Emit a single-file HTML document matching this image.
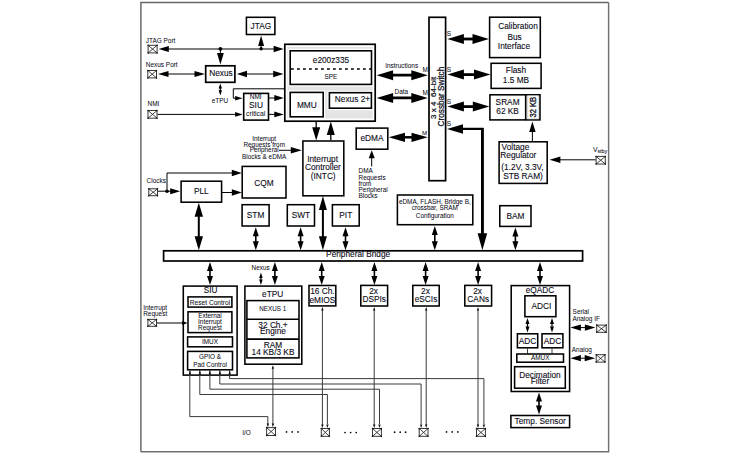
<!DOCTYPE html>
<html><head><meta charset="utf-8"><style>
html,body{margin:0;padding:0;background:#fff;width:750px;height:457px;overflow:hidden}
svg{display:block}
text{font-family:"Liberation Sans",sans-serif}
</style></head><body>
<svg width="750" height="457" viewBox="0 0 750 457">
<rect x="0" y="0" width="750" height="457" fill="#fff"/>
<path d="M140.9,451.8 L140.9,2.4 L608.6,2.4" fill="none" stroke="#666" stroke-width="1.45"/>
<path d="M608.6,2.4 L608.6,451.8 L140.9,451.8" fill="none" stroke="#707070" stroke-width="1.45"/>
<text x="145.80" y="43.00" font-size="6.45" text-anchor="start" fill="#0a0a16" stroke="#0a0a16" stroke-width="0.04" >JTAG Port</text>
<polyline points="162.00,49.00 280.00,49.00" fill="none" stroke="#000" stroke-width="1.0" stroke-linejoin="miter"/>
<polygon points="158.60,49.00 168.80,46.10 168.80,51.90" fill="#000"/>
<polygon points="283.60,49.00 273.60,45.75 273.60,52.25" fill="#000"/>
<rect x="148.10" y="45.30" width="9.00" height="7.60" fill="#fff" stroke="#383838" stroke-width="1.0"/>
<path d="M148.10,45.30L157.10,52.90M157.10,45.30L148.10,52.90" stroke="#222" stroke-width="0.85"/>
<circle cx="148.10" cy="45.30" r="0.75" fill="#111"/>
<circle cx="157.10" cy="45.30" r="0.75" fill="#111"/>
<circle cx="148.10" cy="52.90" r="0.75" fill="#111"/>
<circle cx="157.10" cy="52.90" r="0.75" fill="#111"/>
<circle cx="220.40" cy="48.80" r="1.9" fill="#000"/>
<circle cx="261.10" cy="48.80" r="1.7" fill="#000"/>
<polyline points="220.40,49.00 220.40,56.00" fill="none" stroke="#000" stroke-width="1.0" stroke-linejoin="miter"/>
<polygon points="220.40,64.60 217.00,53.10 223.80,53.10" fill="#000"/>
<polyline points="261.10,49.00 261.10,44.00" fill="none" stroke="#000" stroke-width="1.0" stroke-linejoin="miter"/>
<polygon points="261.10,35.60 258.10,46.10 264.10,46.10" fill="#000"/>
<rect x="246.40" y="17.30" width="28.50" height="17.20" fill="#fff" stroke="#000" stroke-width="1.55"/>
<text x="260.90" y="28.70" font-size="8.3" text-anchor="middle" fill="#0a0a16" stroke="#0a0a16" stroke-width="0.1" >JTAG</text>
<text x="145.80" y="66.80" font-size="6.45" text-anchor="start" fill="#0a0a16" stroke="#0a0a16" stroke-width="0.04" >Nexus Port</text>
<polyline points="162.00,74.00 200.00,74.00" fill="none" stroke="#000" stroke-width="1.0" stroke-linejoin="miter"/>
<polygon points="158.00,74.00 168.50,71.10 168.50,76.90" fill="#000"/>
<polygon points="205.00,74.00 194.50,71.10 194.50,76.90" fill="#000"/>
<rect x="147.80" y="70.50" width="8.70" height="7.40" fill="#fff" stroke="#383838" stroke-width="1.0"/>
<path d="M147.80,70.50L156.50,77.90M156.50,70.50L147.80,77.90" stroke="#222" stroke-width="0.85"/>
<circle cx="147.80" cy="70.50" r="0.75" fill="#111"/>
<circle cx="156.50" cy="70.50" r="0.75" fill="#111"/>
<circle cx="147.80" cy="77.90" r="0.75" fill="#111"/>
<circle cx="156.50" cy="77.90" r="0.75" fill="#111"/>
<rect x="205.70" y="65.80" width="29.20" height="16.50" fill="#fff" stroke="#000" stroke-width="1.7"/>
<text x="221.00" y="76.30" font-size="8.3" text-anchor="middle" fill="#0a0a16" stroke="#0a0a16" stroke-width="0.1" >Nexus</text>
<polyline points="241.90,74.00 278.30,74.00" fill="none" stroke="#000" stroke-width="1.0" stroke-linejoin="miter"/>
<polygon points="236.80,74.00 247.00,70.80 247.00,77.20" fill="#000"/>
<polygon points="283.40,74.00 273.20,70.80 273.20,77.20" fill="#000"/>
<polyline points="220.30,86.00 220.30,92.80" fill="none" stroke="#000" stroke-width="1.2" stroke-linejoin="miter"/>
<polygon points="220.30,83.40 218.60,88.60 222.00,88.60" fill="#000"/>
<polygon points="220.30,95.40 218.60,90.20 222.00,90.20" fill="#000"/>
<text x="219.90" y="102.50" font-size="6.45" text-anchor="middle" fill="#0a0a16" stroke="#0a0a16" stroke-width="0.04" >eTPU</text>
<text x="147.50" y="106.00" font-size="6.45" text-anchor="start" fill="#0a0a16" stroke="#0a0a16" stroke-width="0.04" >NMI</text>
<rect x="148.00" y="110.50" width="9.00" height="7.70" fill="#fff" stroke="#383838" stroke-width="1.0"/>
<path d="M148.00,110.50L157.00,118.20M157.00,110.50L148.00,118.20" stroke="#222" stroke-width="0.85"/>
<circle cx="148.00" cy="110.50" r="0.75" fill="#111"/>
<circle cx="157.00" cy="110.50" r="0.75" fill="#111"/>
<circle cx="148.00" cy="118.20" r="0.75" fill="#111"/>
<circle cx="157.00" cy="118.20" r="0.75" fill="#111"/>
<polyline points="157.50,114.40 237.00,114.40" fill="none" stroke="#000" stroke-width="1.0" stroke-linejoin="miter"/>
<polygon points="242.60,114.40 235.10,112.10 235.10,116.70" fill="#000"/>
<polyline points="284.00,88.80 233.30,88.80 233.30,98.20 237.00,98.20" fill="none" stroke="#000" stroke-width="1.0" stroke-linejoin="miter"/>
<polygon points="242.60,98.20 235.10,95.90 235.10,100.50" fill="#000"/>
<rect x="243.70" y="93.40" width="24.80" height="26.70" fill="#fff" stroke="#000" stroke-width="1.6"/>
<text x="255.70" y="98.80" font-size="6.5" text-anchor="middle" fill="#0a0a16" stroke="#0a0a16" stroke-width="0.04" >NMI</text>
<text x="256.00" y="107.50" font-size="8.4" text-anchor="middle" fill="#0a0a16" stroke="#0a0a16" stroke-width="0.1" >SIU</text>
<text x="255.60" y="116.30" font-size="6.75" text-anchor="middle" fill="#0a0a16" stroke="#0a0a16" stroke-width="0.04" >critical</text>
<polyline points="268.90,98.00 276.00,98.00" fill="none" stroke="#000" stroke-width="1.0" stroke-linejoin="miter"/>
<polygon points="283.80,98.00 274.30,95.10 274.30,100.90" fill="#000"/>
<polyline points="268.90,114.40 276.00,114.40" fill="none" stroke="#000" stroke-width="1.0" stroke-linejoin="miter"/>
<polygon points="283.80,114.40 274.30,111.50 274.30,117.30" fill="#000"/>
<rect x="284.80" y="44.30" width="90.40" height="76.90" fill="#fff" stroke="#000" stroke-width="1.7"/>
<rect x="287.40" y="46.90" width="85.20" height="71.70" fill="#e4e4e4" stroke="none" stroke-width="0"/>
<rect x="290.20" y="50.80" width="81.30" height="33.60" fill="#fff" stroke="#fff" stroke-width="4.0"/>
<rect x="290.20" y="50.80" width="81.30" height="33.60" fill="#fff" stroke="#000" stroke-width="1.6"/>
<line x1="291" y1="69" x2="371" y2="69" stroke="#000" stroke-width="1.3" stroke-dasharray="2.8 3.2"/>
<text x="331.00" y="63.30" font-size="8.3" text-anchor="middle" fill="#0a0a16" stroke="#0a0a16" stroke-width="0.1" >e200z335</text>
<text x="331.00" y="78.60" font-size="6.4" text-anchor="middle" fill="#0a0a16" stroke="#0a0a16" stroke-width="0.04" >SPE</text>
<rect x="290.20" y="92.40" width="33.00" height="24.40" fill="#fff" stroke="#fff" stroke-width="4.0"/>
<rect x="290.20" y="92.40" width="33.00" height="24.40" fill="#fff" stroke="#000" stroke-width="1.6"/>
<text x="306.80" y="108.20" font-size="8.3" text-anchor="middle" fill="#0a0a16" stroke="#0a0a16" stroke-width="0.1" >MMU</text>
<rect x="329.40" y="92.70" width="42.00" height="15.50" fill="#fff" stroke="#fff" stroke-width="4.0"/>
<rect x="329.40" y="92.70" width="42.00" height="15.50" fill="#fff" stroke="#000" stroke-width="1.6"/>
<text x="352.50" y="102.20" font-size="8.3" text-anchor="middle" fill="#0a0a16" stroke="#0a0a16" stroke-width="0.1" >Nexus 2+</text>
<polyline points="384.85,75.20 419.55,75.20" fill="none" stroke="#000" stroke-width="2.8" stroke-linejoin="miter"/>
<polygon points="376.60,75.20 393.10,70.20 393.10,80.20" fill="#000"/>
<polygon points="427.80,75.20 411.30,70.20 411.30,80.20" fill="#000"/>
<text x="401.70" y="67.90" font-size="6.45" text-anchor="middle" fill="#0a0a16" stroke="#0a0a16" stroke-width="0.04" >Instructions</text>
<text x="425.10" y="72.30" font-size="6.4" text-anchor="middle" fill="#0a0a16" stroke="#0a0a16" stroke-width="0.04" >M</text>
<polyline points="384.85,97.90 419.55,97.90" fill="none" stroke="#000" stroke-width="2.8" stroke-linejoin="miter"/>
<polygon points="376.60,97.90 393.10,92.90 393.10,102.90" fill="#000"/>
<polygon points="427.80,97.90 411.30,92.90 411.30,102.90" fill="#000"/>
<text x="401.30" y="93.60" font-size="6.45" text-anchor="middle" fill="#0a0a16" stroke="#0a0a16" stroke-width="0.04" >Data</text>
<text x="425.10" y="95.10" font-size="6.4" text-anchor="middle" fill="#0a0a16" stroke="#0a0a16" stroke-width="0.04" >M</text>
<rect x="429.00" y="17.30" width="16.60" height="163.40" fill="#fff" stroke="#000" stroke-width="1.7"/>
<text transform="translate(436.2,97.8) rotate(-90)" font-size="8.1" text-anchor="middle" fill="#0a0a16" stroke="#0a0a16" stroke-width="0.2" xml:space="preserve">3 x 4  64-bit</text>
<text transform="translate(444.2,96.6) rotate(-90)" font-size="8.2" text-anchor="middle" fill="#0a0a16" stroke="#0a0a16" stroke-width="0.25">Crossbar Switch</text>
<polyline points="455.65,39.00 480.75,39.00" fill="none" stroke="#000" stroke-width="2.8" stroke-linejoin="miter"/>
<polygon points="447.40,39.00 463.90,34.00 463.90,44.00" fill="#000"/>
<polygon points="489.00,39.00 472.50,34.00 472.50,44.00" fill="#000"/>
<text x="449.00" y="35.90" font-size="6.4" text-anchor="middle" fill="#0a0a16" stroke="#0a0a16" stroke-width="0.04" >S</text>
<rect x="489.60" y="17.20" width="50.70" height="40.40" fill="#fff" stroke="#000" stroke-width="1.55"/>
<text x="518.00" y="29.00" font-size="8.3" text-anchor="middle" fill="#0a0a16" stroke="#0a0a16" stroke-width="0.1" >Calibration</text>
<text x="514.60" y="39.60" font-size="8.3" text-anchor="middle" fill="#0a0a16" stroke="#0a0a16" stroke-width="0.1" >Bus</text>
<text x="514.00" y="48.80" font-size="8.3" text-anchor="middle" fill="#0a0a16" stroke="#0a0a16" stroke-width="0.1" >Interface</text>
<polyline points="455.65,74.60 482.25,74.60" fill="none" stroke="#000" stroke-width="2.8" stroke-linejoin="miter"/>
<polygon points="447.40,74.60 463.90,69.60 463.90,79.60" fill="#000"/>
<polygon points="490.50,74.60 474.00,69.60 474.00,79.60" fill="#000"/>
<text x="449.00" y="72.40" font-size="6.4" text-anchor="middle" fill="#0a0a16" stroke="#0a0a16" stroke-width="0.04" >S</text>
<rect x="491.10" y="63.30" width="50.00" height="25.10" fill="#fff" stroke="#000" stroke-width="1.55"/>
<text x="516.00" y="73.00" font-size="8.3" text-anchor="middle" fill="#0a0a16" stroke="#0a0a16" stroke-width="0.1" >Flash</text>
<text x="516.00" y="83.00" font-size="8.3" text-anchor="middle" fill="#0a0a16" stroke="#0a0a16" stroke-width="0.1" >1.5 MB</text>
<polyline points="455.65,106.60 481.05,106.60" fill="none" stroke="#000" stroke-width="2.8" stroke-linejoin="miter"/>
<polygon points="447.40,106.60 463.90,101.60 463.90,111.60" fill="#000"/>
<polygon points="489.30,106.60 472.80,101.60 472.80,111.60" fill="#000"/>
<text x="449.00" y="104.20" font-size="6.4" text-anchor="middle" fill="#0a0a16" stroke="#0a0a16" stroke-width="0.04" >S</text>
<rect x="489.90" y="94.80" width="50.10" height="25.10" fill="#fff" stroke="#000" stroke-width="1.55"/>
<polyline points="525.70,94.40 525.70,120.30" fill="none" stroke="#000" stroke-width="1.6" stroke-linejoin="miter"/>
<rect x="527.80" y="95.80" width="10.40" height="23.10" fill="#fff" stroke="#bbb" stroke-width="0.6"/>
<text x="507.60" y="104.50" font-size="8.3" text-anchor="middle" fill="#0a0a16" stroke="#0a0a16" stroke-width="0.1" >SRAM</text>
<text x="507.60" y="113.60" font-size="8.3" text-anchor="middle" fill="#0a0a16" stroke="#0a0a16" stroke-width="0.1" >62 KB</text>
<text transform="translate(536.1,107.2) rotate(-90)" font-size="9.4" text-anchor="middle" fill="#0a0a16" stroke="#0a0a16" stroke-width="0.3" textLength="20.8" lengthAdjust="spacingAndGlyphs">32 KB</text>
<polygon points="447.00,128.90 463.00,124.15 463.00,133.65" fill="#000"/>
<polyline points="460.00,128.90 482.40,128.90 482.40,235.00" fill="none" stroke="#000" stroke-width="2.3" stroke-linejoin="miter"/>
<line x1="482.4" y1="128" x2="482.4" y2="236" stroke="#000" stroke-width="2.7"/>
<polygon points="482.40,250.30 477.60,233.30 487.20,233.30" fill="#000"/>
<text x="449.00" y="126.20" font-size="6.4" text-anchor="middle" fill="#0a0a16" stroke="#0a0a16" stroke-width="0.04" >S</text>
<rect x="356.20" y="128.10" width="31.60" height="21.10" fill="#fff" stroke="#000" stroke-width="1.55"/>
<text x="372.00" y="140.80" font-size="8.3" text-anchor="middle" fill="#0a0a16" stroke="#0a0a16" stroke-width="0.1" >eDMA</text>
<polyline points="396.85,137.30 419.65,137.30" fill="none" stroke="#000" stroke-width="2.5" stroke-linejoin="miter"/>
<polygon points="388.70,137.30 405.00,132.65 405.00,141.95" fill="#000"/>
<polygon points="427.80,137.30 411.50,132.65 411.50,141.95" fill="#000"/>
<text x="424.60" y="134.70" font-size="6.2" text-anchor="middle" fill="#0a0a16" stroke="#0a0a16" stroke-width="0.04" >M</text>
<polyline points="371.70,156.00 371.70,166.40" fill="none" stroke="#000" stroke-width="1.0" stroke-linejoin="miter"/>
<polygon points="371.70,150.20 368.70,158.20 374.70,158.20" fill="#000"/>
<text x="358.60" y="173.20" font-size="6.4" text-anchor="start" fill="#0a0a16" stroke="#0a0a16" stroke-width="0.04" >DMA</text>
<text x="358.60" y="179.70" font-size="6.4" text-anchor="start" fill="#0a0a16" stroke="#0a0a16" stroke-width="0.04" >Requests</text>
<text x="358.60" y="185.80" font-size="6.4" text-anchor="start" fill="#0a0a16" stroke="#0a0a16" stroke-width="0.04" >from</text>
<text x="358.60" y="191.60" font-size="6.4" text-anchor="start" fill="#0a0a16" stroke="#0a0a16" stroke-width="0.04" >Peripheral</text>
<text x="358.60" y="198.30" font-size="6.4" text-anchor="start" fill="#0a0a16" stroke="#0a0a16" stroke-width="0.04" >Blocks</text>
<rect x="499.10" y="141.80" width="48.10" height="41.60" fill="#fff" stroke="#000" stroke-width="1.55"/>
<text x="501.60" y="150.20" font-size="8.3" text-anchor="start" fill="#0a0a16" stroke="#0a0a16" stroke-width="0.1" >Voltage</text>
<text x="500.30" y="157.90" font-size="8.3" text-anchor="start" fill="#0a0a16" stroke="#0a0a16" stroke-width="0.1" >Regulator</text>
<text x="522.50" y="169.80" font-size="8.3" text-anchor="middle" fill="#0a0a16" stroke="#0a0a16" stroke-width="0.1" >(1.2V, 3.3V,</text>
<text x="523.00" y="178.80" font-size="8.3" text-anchor="middle" fill="#0a0a16" stroke="#0a0a16" stroke-width="0.1" >STB RAM)</text>
<polyline points="532.40,131.00 532.40,141.40" fill="none" stroke="#000" stroke-width="1.0" stroke-linejoin="miter"/>
<polygon points="532.40,121.40 529.20,131.90 535.60,131.90" fill="#000"/>
<polyline points="558.00,159.80 595.60,159.80" fill="none" stroke="#000" stroke-width="1.0" stroke-linejoin="miter"/>
<polygon points="549.60,159.80 560.40,156.55 560.40,163.05" fill="#000"/>
<rect x="596.10" y="156.40" width="9.20" height="7.60" fill="#fff" stroke="#383838" stroke-width="1.0"/>
<path d="M596.10,156.40L605.30,164.00M605.30,156.40L596.10,164.00" stroke="#222" stroke-width="0.85"/>
<circle cx="596.10" cy="156.40" r="0.75" fill="#111"/>
<circle cx="605.30" cy="156.40" r="0.75" fill="#111"/>
<circle cx="596.10" cy="164.00" r="0.75" fill="#111"/>
<circle cx="605.30" cy="164.00" r="0.75" fill="#111"/>
<text x="593.00" y="151.70" font-size="6.8" text-anchor="start" fill="#0a0a16" stroke="#0a0a16" stroke-width="0.04" >V</text>
<text x="597.40" y="152.60" font-size="5.4" text-anchor="start" fill="#0a0a16" stroke="#0a0a16" stroke-width="0.04" >stby</text>
<text x="146.60" y="182.80" font-size="6.45" text-anchor="start" fill="#0a0a16" stroke="#0a0a16" stroke-width="0.04" >Clocks</text>
<rect x="148.80" y="188.80" width="8.70" height="6.90" fill="#fff" stroke="#383838" stroke-width="1.0"/>
<path d="M148.80,188.80L157.50,195.70M157.50,188.80L148.80,195.70" stroke="#222" stroke-width="0.85"/>
<circle cx="148.80" cy="188.80" r="0.75" fill="#111"/>
<circle cx="157.50" cy="188.80" r="0.75" fill="#111"/>
<circle cx="148.80" cy="195.70" r="0.75" fill="#111"/>
<circle cx="157.50" cy="195.70" r="0.75" fill="#111"/>
<polyline points="158.00,191.20 172.00,191.20" fill="none" stroke="#000" stroke-width="1.0" stroke-linejoin="miter"/>
<polygon points="180.20,191.20 170.20,188.20 170.20,194.20" fill="#000"/>
<circle cx="167.00" cy="191.20" r="1.8" fill="#000"/>
<polyline points="167.00,191.20 167.00,173.00 233.00,173.00" fill="none" stroke="#000" stroke-width="1.0" stroke-linejoin="miter"/>
<polygon points="241.80,173.00 231.80,169.70 231.80,176.30" fill="#000"/>
<rect x="181.10" y="181.20" width="40.50" height="21.00" fill="#fff" stroke="#000" stroke-width="1.55"/>
<text x="201.30" y="194.20" font-size="8.3" text-anchor="middle" fill="#0a0a16" stroke="#0a0a16" stroke-width="0.1" >PLL</text>
<polyline points="222.00,192.50 233.00,192.50" fill="none" stroke="#000" stroke-width="1.0" stroke-linejoin="miter"/>
<polygon points="241.80,192.50 231.80,189.20 231.80,195.80" fill="#000"/>
<rect x="242.20" y="166.40" width="43.80" height="31.60" fill="#fff" stroke="#000" stroke-width="1.55"/>
<text x="264.00" y="186.10" font-size="8.3" text-anchor="middle" fill="#0a0a16" stroke="#0a0a16" stroke-width="0.1" >CQM</text>
<polyline points="198.80,209.80 198.80,243.20" fill="none" stroke="#000" stroke-width="2.0" stroke-linejoin="miter"/>
<polygon points="198.80,202.80 194.60,216.80 203.00,216.80" fill="#000"/>
<polygon points="198.80,250.20 194.60,236.20 203.00,236.20" fill="#000"/>
<text x="264.20" y="140.80" font-size="6.4" text-anchor="middle" fill="#0a0a16" stroke="#0a0a16" stroke-width="0.04" >Interrupt</text>
<text x="264.20" y="146.80" font-size="6.4" text-anchor="middle" fill="#0a0a16" stroke="#0a0a16" stroke-width="0.04" >Requests from</text>
<text x="264.20" y="152.30" font-size="6.4" text-anchor="middle" fill="#0a0a16" stroke="#0a0a16" stroke-width="0.04" >Peripheral</text>
<text x="264.20" y="158.60" font-size="6.4" text-anchor="middle" fill="#0a0a16" stroke="#0a0a16" stroke-width="0.04" >Blocks &amp; eDMA</text>
<polyline points="279.00,150.30 292.00,150.30" fill="none" stroke="#000" stroke-width="1.0" stroke-linejoin="miter"/>
<polygon points="301.80,150.30 290.80,147.10 290.80,153.50" fill="#000"/>
<rect x="302.90" y="141.00" width="40.90" height="54.80" fill="#fff" stroke="#000" stroke-width="1.55"/>
<text x="322.60" y="162.20" font-size="8.3" text-anchor="middle" fill="#0a0a16" stroke="#0a0a16" stroke-width="0.1" >Interrupt</text>
<text x="322.90" y="170.20" font-size="8.3" text-anchor="middle" fill="#0a0a16" stroke="#0a0a16" stroke-width="0.1" >Controller</text>
<text x="323.20" y="179.00" font-size="8.3" text-anchor="middle" fill="#0a0a16" stroke="#0a0a16" stroke-width="0.1" >(INTC)</text>
<polyline points="316.20,121.60 316.20,130.00" fill="none" stroke="#000" stroke-width="1.3" stroke-linejoin="miter"/>
<polygon points="316.20,140.40 312.20,127.20 320.20,127.20" fill="#000"/>
<polyline points="330.80,130.00 330.80,140.60" fill="none" stroke="#000" stroke-width="1.3" stroke-linejoin="miter"/>
<polygon points="330.80,121.60 326.80,135.00 334.80,135.00" fill="#000"/>
<polyline points="322.90,203.00 322.90,243.20" fill="none" stroke="#000" stroke-width="2.0" stroke-linejoin="miter"/>
<polygon points="322.90,196.00 318.90,210.00 326.90,210.00" fill="#000"/>
<polygon points="322.90,250.20 318.90,236.20 326.90,236.20" fill="#000"/>
<rect x="242.10" y="204.70" width="27.00" height="21.30" fill="#fff" stroke="#000" stroke-width="1.55"/>
<text x="255.60" y="217.50" font-size="8.3" text-anchor="middle" fill="#0a0a16" stroke="#0a0a16" stroke-width="0.1" >STM</text>
<polyline points="255.80,231.70 255.80,245.70" fill="none" stroke="#000" stroke-width="1.6" stroke-linejoin="miter"/>
<polygon points="255.80,227.20 252.80,236.20 258.80,236.20" fill="#000"/>
<polygon points="255.80,250.20 252.80,241.20 258.80,241.20" fill="#000"/>
<rect x="287.30" y="204.70" width="27.20" height="21.30" fill="#fff" stroke="#000" stroke-width="1.55"/>
<text x="300.90" y="217.50" font-size="8.3" text-anchor="middle" fill="#0a0a16" stroke="#0a0a16" stroke-width="0.1" >SWT</text>
<polyline points="300.60,231.70 300.60,245.70" fill="none" stroke="#000" stroke-width="1.6" stroke-linejoin="miter"/>
<polygon points="300.60,227.20 297.60,236.20 303.60,236.20" fill="#000"/>
<polygon points="300.60,250.20 297.60,241.20 303.60,241.20" fill="#000"/>
<rect x="332.40" y="204.70" width="26.80" height="21.30" fill="#fff" stroke="#000" stroke-width="1.55"/>
<text x="345.80" y="217.50" font-size="8.3" text-anchor="middle" fill="#0a0a16" stroke="#0a0a16" stroke-width="0.1" >PIT</text>
<polyline points="345.50,231.70 345.50,245.70" fill="none" stroke="#000" stroke-width="1.6" stroke-linejoin="miter"/>
<polygon points="345.50,227.20 342.50,236.20 348.50,236.20" fill="#000"/>
<polygon points="345.50,250.20 342.50,241.20 348.50,241.20" fill="#000"/>
<rect x="397.40" y="195.00" width="75.40" height="29.70" fill="#fff" stroke="#000" stroke-width="1.55"/>
<text x="434.80" y="203.80" font-size="6.4" text-anchor="middle" fill="#0a0a16" stroke="#0a0a16" stroke-width="0.04" >eDMA, FLASH, Bridge B,</text>
<text x="434.80" y="210.20" font-size="6.4" text-anchor="middle" fill="#0a0a16" stroke="#0a0a16" stroke-width="0.04" >crossbar, SRAM</text>
<text x="434.80" y="217.60" font-size="6.4" text-anchor="middle" fill="#0a0a16" stroke="#0a0a16" stroke-width="0.04" >Configuration</text>
<polyline points="434.80,230.40 434.80,245.70" fill="none" stroke="#000" stroke-width="1.6" stroke-linejoin="miter"/>
<polygon points="434.80,225.90 431.80,234.90 437.80,234.90" fill="#000"/>
<polygon points="434.80,250.20 431.80,241.20 437.80,241.20" fill="#000"/>
<rect x="499.80" y="205.70" width="31.20" height="20.70" fill="#fff" stroke="#000" stroke-width="1.55"/>
<text x="515.40" y="218.60" font-size="8.3" text-anchor="middle" fill="#0a0a16" stroke="#0a0a16" stroke-width="0.1" >BAM</text>
<polyline points="515.40,231.90 515.40,245.70" fill="none" stroke="#000" stroke-width="1.6" stroke-linejoin="miter"/>
<polygon points="515.40,227.40 512.40,236.40 518.40,236.40" fill="#000"/>
<polygon points="515.40,250.20 512.40,241.20 518.40,241.20" fill="#000"/>
<rect x="163.60" y="250.80" width="419.00" height="10.20" fill="#fff" stroke="#000" stroke-width="1.7"/>
<text x="326.10" y="257.30" font-size="8.3" text-anchor="start" fill="#0a0a16" stroke="#0a0a16" stroke-width="0.1" >Peripheral Bridge</text>
<polyline points="210.00,266.50 210.00,280.50" fill="none" stroke="#000" stroke-width="1.6" stroke-linejoin="miter"/>
<polygon points="210.00,262.00 207.00,271.00 213.00,271.00" fill="#000"/>
<polygon points="210.00,285.00 207.00,276.00 213.00,276.00" fill="#000"/>
<polyline points="274.90,266.50 274.90,280.50" fill="none" stroke="#000" stroke-width="1.6" stroke-linejoin="miter"/>
<polygon points="274.90,262.00 271.90,271.00 277.90,271.00" fill="#000"/>
<polygon points="274.90,285.00 271.90,276.00 277.90,276.00" fill="#000"/>
<polyline points="321.70,266.50 321.70,280.50" fill="none" stroke="#000" stroke-width="1.6" stroke-linejoin="miter"/>
<polygon points="321.70,262.00 318.70,271.00 324.70,271.00" fill="#000"/>
<polygon points="321.70,285.00 318.70,276.00 324.70,276.00" fill="#000"/>
<polyline points="374.40,266.50 374.40,280.50" fill="none" stroke="#000" stroke-width="1.6" stroke-linejoin="miter"/>
<polygon points="374.40,262.00 371.40,271.00 377.40,271.00" fill="#000"/>
<polygon points="374.40,285.00 371.40,276.00 377.40,276.00" fill="#000"/>
<polyline points="425.60,266.50 425.60,280.50" fill="none" stroke="#000" stroke-width="1.6" stroke-linejoin="miter"/>
<polygon points="425.60,262.00 422.60,271.00 428.60,271.00" fill="#000"/>
<polygon points="425.60,285.00 422.60,276.00 428.60,276.00" fill="#000"/>
<polyline points="478.10,266.50 478.10,280.50" fill="none" stroke="#000" stroke-width="1.6" stroke-linejoin="miter"/>
<polygon points="478.10,262.00 475.10,271.00 481.10,271.00" fill="#000"/>
<polygon points="478.10,285.00 475.10,276.00 481.10,276.00" fill="#000"/>
<polyline points="540.00,266.50 540.00,280.50" fill="none" stroke="#000" stroke-width="1.6" stroke-linejoin="miter"/>
<polygon points="540.00,262.00 537.00,271.00 543.00,271.00" fill="#000"/>
<polygon points="540.00,285.00 537.00,276.00 543.00,276.00" fill="#000"/>
<rect x="183.30" y="286.10" width="53.80" height="89.00" fill="#fff" stroke="#000" stroke-width="1.55"/>
<text x="210.70" y="293.30" font-size="8.2" text-anchor="middle" fill="#0a0a16" stroke="#0a0a16" stroke-width="0.1" >SIU</text>
<rect x="188.00" y="296.90" width="43.90" height="10.20" fill="#fff" stroke="#000" stroke-width="1.55"/>
<text x="210.00" y="304.80" font-size="6.6" text-anchor="middle" fill="#0a0a16" stroke="#0a0a16" stroke-width="0.04" >Reset Control</text>
<rect x="188.00" y="311.80" width="43.90" height="20.80" fill="#fff" stroke="#000" stroke-width="1.55"/>
<text x="210.00" y="317.70" font-size="6.4" text-anchor="middle" fill="#0a0a16" stroke="#0a0a16" stroke-width="0.04" >External</text>
<text x="210.00" y="323.80" font-size="6.4" text-anchor="middle" fill="#0a0a16" stroke="#0a0a16" stroke-width="0.04" >Interrupt</text>
<text x="210.00" y="330.10" font-size="6.4" text-anchor="middle" fill="#0a0a16" stroke="#0a0a16" stroke-width="0.04" >Request</text>
<rect x="187.60" y="336.90" width="44.90" height="9.90" fill="#fff" stroke="#000" stroke-width="1.55"/>
<text x="210.00" y="343.80" font-size="6.4" text-anchor="middle" fill="#0a0a16" stroke="#0a0a16" stroke-width="0.04" >IMUX</text>
<rect x="187.60" y="351.40" width="44.90" height="18.40" fill="#fff" stroke="#000" stroke-width="1.55"/>
<text x="210.00" y="358.80" font-size="6.4" text-anchor="middle" fill="#0a0a16" stroke="#0a0a16" stroke-width="0.04" >GPIO &amp;</text>
<text x="210.00" y="366.80" font-size="6.4" text-anchor="middle" fill="#0a0a16" stroke="#0a0a16" stroke-width="0.04" >Pad Control</text>
<text x="143.20" y="310.20" font-size="6.45" text-anchor="start" fill="#0a0a16" stroke="#0a0a16" stroke-width="0.04" >Interrupt</text>
<text x="143.20" y="315.80" font-size="6.45" text-anchor="start" fill="#0a0a16" stroke="#0a0a16" stroke-width="0.04" >Request</text>
<rect x="147.90" y="319.40" width="8.60" height="6.90" fill="#fff" stroke="#383838" stroke-width="1.0"/>
<path d="M147.90,319.40L156.50,326.30M156.50,319.40L147.90,326.30" stroke="#222" stroke-width="0.85"/>
<circle cx="147.90" cy="319.40" r="0.75" fill="#111"/>
<circle cx="156.50" cy="319.40" r="0.75" fill="#111"/>
<circle cx="147.90" cy="326.30" r="0.75" fill="#111"/>
<circle cx="156.50" cy="326.30" r="0.75" fill="#111"/>
<polyline points="157.00,323.00 182.00,323.00" fill="none" stroke="#000" stroke-width="1.0" stroke-linejoin="miter"/>
<polygon points="187.60,323.00 182.10,321.00 182.10,325.00" fill="#000"/>
<text x="251.60" y="269.60" font-size="6.4" text-anchor="start" fill="#0a0a16" stroke="#0a0a16" stroke-width="0.04" >Nexus</text>
<polyline points="260.90,275.30 260.90,282.30" fill="none" stroke="#000" stroke-width="1.2" stroke-linejoin="miter"/>
<polygon points="260.90,272.60 259.15,278.00 262.65,278.00" fill="#000"/>
<polygon points="260.90,285.00 259.15,279.60 262.65,279.60" fill="#000"/>
<rect x="244.90" y="286.10" width="56.90" height="78.10" fill="#fff" stroke="#000" stroke-width="1.55"/>
<text x="272.70" y="296.70" font-size="8.3" text-anchor="middle" fill="#0a0a16" stroke="#0a0a16" stroke-width="0.1" >eTPU</text>
<rect x="246.90" y="300.60" width="52.10" height="57.30" fill="#fff" stroke="#000" stroke-width="1.55"/>
<polyline points="246.90,319.20 299.00,319.20" fill="none" stroke="#000" stroke-width="1.6" stroke-linejoin="miter"/>
<polyline points="246.90,339.10 299.00,339.10" fill="none" stroke="#000" stroke-width="1.6" stroke-linejoin="miter"/>
<text x="272.70" y="311.20" font-size="6.3" text-anchor="middle" fill="#0a0a16" stroke="#0a0a16" stroke-width="0.04" >NEXUS 1</text>
<text x="273.00" y="327.70" font-size="8.3" text-anchor="middle" fill="#0a0a16" stroke="#0a0a16" stroke-width="0.1" >32 Ch.+</text>
<text x="273.00" y="334.30" font-size="8.3" text-anchor="middle" fill="#0a0a16" stroke="#0a0a16" stroke-width="0.1" >Engine</text>
<text x="273.00" y="347.70" font-size="8.3" text-anchor="middle" fill="#0a0a16" stroke="#0a0a16" stroke-width="0.1" >RAM</text>
<text x="273.00" y="355.40" font-size="8.3" text-anchor="middle" fill="#0a0a16" stroke="#0a0a16" stroke-width="0.1" >14 KB/3 KB</text>
<rect x="309.00" y="285.50" width="26.80" height="20.40" fill="#fff" stroke="#000" stroke-width="1.55"/>
<text x="322.40" y="293.90" font-size="8.3" text-anchor="middle" fill="#0a0a16" stroke="#0a0a16" stroke-width="0.1" >16 Ch.</text>
<text x="322.40" y="302.60" font-size="8.3" text-anchor="middle" fill="#0a0a16" stroke="#0a0a16" stroke-width="0.1" >eMIOS</text>
<rect x="360.80" y="285.40" width="26.80" height="20.60" fill="#fff" stroke="#000" stroke-width="1.55"/>
<text x="373.60" y="294.00" font-size="8.3" text-anchor="middle" fill="#0a0a16" stroke="#0a0a16" stroke-width="0.1" >2x</text>
<text x="374.20" y="302.40" font-size="8.3" text-anchor="middle" fill="#0a0a16" stroke="#0a0a16" stroke-width="0.1" >DSPIs</text>
<rect x="412.80" y="285.40" width="26.40" height="20.60" fill="#fff" stroke="#000" stroke-width="1.55"/>
<text x="425.40" y="294.00" font-size="8.3" text-anchor="middle" fill="#0a0a16" stroke="#0a0a16" stroke-width="0.1" >2x</text>
<text x="426.00" y="302.40" font-size="8.3" text-anchor="middle" fill="#0a0a16" stroke="#0a0a16" stroke-width="0.1" >eSCIs</text>
<rect x="464.80" y="285.40" width="26.80" height="20.60" fill="#fff" stroke="#000" stroke-width="1.55"/>
<text x="477.60" y="294.00" font-size="8.3" text-anchor="middle" fill="#0a0a16" stroke="#0a0a16" stroke-width="0.1" >2x</text>
<text x="478.20" y="302.40" font-size="8.3" text-anchor="middle" fill="#0a0a16" stroke="#0a0a16" stroke-width="0.1" >CANs</text>
<rect x="511.20" y="285.60" width="58.40" height="105.90" fill="#fff" stroke="#000" stroke-width="1.55"/>
<text x="540.00" y="293.20" font-size="8.3" text-anchor="middle" fill="#0a0a16" stroke="#0a0a16" stroke-width="0.1" >eQADC</text>
<rect x="524.90" y="295.80" width="31.00" height="20.90" fill="#fff" stroke="#000" stroke-width="1.55"/>
<text x="541.40" y="308.80" font-size="8.3" text-anchor="middle" fill="#0a0a16" stroke="#0a0a16" stroke-width="0.1" >ADCI</text>
<polyline points="527.50,321.00 527.50,329.60" fill="none" stroke="#000" stroke-width="1.2" stroke-linejoin="miter"/>
<polygon points="527.50,318.00 525.50,324.00 529.50,324.00" fill="#000"/>
<polygon points="527.50,332.60 525.50,326.60 529.50,326.60" fill="#000"/>
<polyline points="552.00,321.00 552.00,329.60" fill="none" stroke="#000" stroke-width="1.2" stroke-linejoin="miter"/>
<polygon points="552.00,318.00 550.00,324.00 554.00,324.00" fill="#000"/>
<polygon points="552.00,332.60 550.00,326.60 554.00,326.60" fill="#000"/>
<rect x="517.40" y="333.80" width="20.30" height="14.00" fill="#fff" stroke="#000" stroke-width="1.55"/>
<text x="527.50" y="344.00" font-size="8.3" text-anchor="middle" fill="#0a0a16" stroke="#0a0a16" stroke-width="0.1" >ADC</text>
<rect x="542.00" y="333.80" width="20.90" height="14.00" fill="#fff" stroke="#000" stroke-width="1.55"/>
<text x="552.40" y="344.00" font-size="8.3" text-anchor="middle" fill="#0a0a16" stroke="#0a0a16" stroke-width="0.1" >ADC</text>
<polyline points="527.50,348.20 527.50,353.60" fill="none" stroke="#444" stroke-width="1.0" stroke-linejoin="miter"/>
<polyline points="552.00,348.20 552.00,353.60" fill="none" stroke="#444" stroke-width="1.0" stroke-linejoin="miter"/>
<rect x="516.80" y="354.00" width="46.70" height="8.20" fill="#fff" stroke="#000" stroke-width="1.55"/>
<text x="540.20" y="360.00" font-size="6.4" text-anchor="middle" fill="#0a0a16" stroke="#0a0a16" stroke-width="0.04" >AMUX</text>
<rect x="514.60" y="366.70" width="50.70" height="21.50" fill="#fff" stroke="#000" stroke-width="1.55"/>
<text x="540.00" y="378.30" font-size="8.3" text-anchor="middle" fill="#0a0a16" stroke="#0a0a16" stroke-width="0.1" >Decimation</text>
<text x="540.00" y="384.00" font-size="8.3" text-anchor="middle" fill="#0a0a16" stroke="#0a0a16" stroke-width="0.1" >Filter</text>
<text x="572.60" y="313.60" font-size="6.45" text-anchor="start" fill="#0a0a16" stroke="#0a0a16" stroke-width="0.04" >Serial</text>
<text x="572.40" y="320.50" font-size="6.45" text-anchor="start" fill="#0a0a16" stroke="#0a0a16" stroke-width="0.04" >Analog IF</text>
<polyline points="575.65,327.60 590.15,327.60" fill="none" stroke="#000" stroke-width="1.0" stroke-linejoin="miter"/>
<polygon points="570.40,327.60 580.90,324.50 580.90,330.70" fill="#000"/>
<polygon points="595.40,327.60 584.90,324.50 584.90,330.70" fill="#000"/>
<rect x="596.70" y="325.10" width="9.50" height="7.20" fill="#fff" stroke="#383838" stroke-width="1.0"/>
<path d="M596.70,325.10L606.20,332.30M606.20,325.10L596.70,332.30" stroke="#222" stroke-width="0.85"/>
<circle cx="596.70" cy="325.10" r="0.75" fill="#111"/>
<circle cx="606.20" cy="325.10" r="0.75" fill="#111"/>
<circle cx="596.70" cy="332.30" r="0.75" fill="#111"/>
<circle cx="606.20" cy="332.30" r="0.75" fill="#111"/>
<text x="571.80" y="352.00" font-size="6.45" text-anchor="start" fill="#0a0a16" stroke="#0a0a16" stroke-width="0.04" >Analog</text>
<polyline points="575.65,358.20 589.95,358.20" fill="none" stroke="#000" stroke-width="1.0" stroke-linejoin="miter"/>
<polygon points="570.40,358.20 580.90,355.10 580.90,361.30" fill="#000"/>
<polygon points="595.20,358.20 584.70,355.10 584.70,361.30" fill="#000"/>
<rect x="596.20" y="354.70" width="8.80" height="7.40" fill="#fff" stroke="#383838" stroke-width="1.0"/>
<path d="M596.20,354.70L605.00,362.10M605.00,354.70L596.20,362.10" stroke="#222" stroke-width="0.85"/>
<circle cx="596.20" cy="354.70" r="0.75" fill="#111"/>
<circle cx="605.00" cy="354.70" r="0.75" fill="#111"/>
<circle cx="596.20" cy="362.10" r="0.75" fill="#111"/>
<circle cx="605.00" cy="362.10" r="0.75" fill="#111"/>
<polyline points="539.00,397.10 539.00,410.10" fill="none" stroke="#000" stroke-width="1.6" stroke-linejoin="miter"/>
<polygon points="539.00,392.60 536.00,401.60 542.00,401.60" fill="#000"/>
<polygon points="539.00,414.60 536.00,405.60 542.00,405.60" fill="#000"/>
<rect x="510.90" y="415.50" width="58.70" height="12.10" fill="#fff" stroke="#000" stroke-width="1.55"/>
<text x="540.20" y="424.30" font-size="8.3" text-anchor="middle" fill="#0a0a16" stroke="#0a0a16" stroke-width="0.1" >Temp. Sensor</text>
<polyline points="189.80,370.20 189.80,416.60 267.80,416.60 267.80,424.00" fill="none" stroke="#3a3a3a" stroke-width="1.0" stroke-linejoin="miter"/>
<polygon points="267.90,427.20 266.70,423.60 269.10,423.60" fill="#111"/>
<polyline points="199.80,370.20 199.80,394.50 327.40,394.50 327.40,424.00" fill="none" stroke="#3a3a3a" stroke-width="1.0" stroke-linejoin="miter"/>
<polygon points="327.40,428.00 326.20,424.40 328.60,424.40" fill="#111"/>
<polyline points="209.90,370.20 209.90,389.20 379.50,389.20 379.50,424.00" fill="none" stroke="#3a3a3a" stroke-width="1.0" stroke-linejoin="miter"/>
<polygon points="379.50,428.00 378.30,424.40 380.70,424.40" fill="#111"/>
<polyline points="219.80,370.20 219.80,384.00 421.10,384.00 421.10,424.00" fill="none" stroke="#3a3a3a" stroke-width="1.0" stroke-linejoin="miter"/>
<polygon points="421.10,428.00 419.90,424.40 422.30,424.40" fill="#111"/>
<polyline points="229.60,370.20 229.60,378.60 483.90,378.60 483.90,424.00" fill="none" stroke="#3a3a3a" stroke-width="1.0" stroke-linejoin="miter"/>
<polygon points="483.90,428.00 482.70,424.40 485.10,424.40" fill="#111"/>
<polyline points="272.90,367.60 272.90,424.20" fill="none" stroke="#3a3a3a" stroke-width="1.0" stroke-linejoin="miter"/>
<polygon points="272.90,365.20 271.70,368.80 274.10,368.80" fill="#111"/>
<polygon points="272.90,427.20 271.70,423.60 274.10,423.60" fill="#111"/>
<polyline points="322.40,309.30 322.40,425.00" fill="none" stroke="#3a3a3a" stroke-width="1.0" stroke-linejoin="miter"/>
<polygon points="322.40,306.90 321.20,310.50 323.60,310.50" fill="#111"/>
<polygon points="322.40,428.00 321.20,424.40 323.60,424.40" fill="#111"/>
<polyline points="374.20,309.40 374.20,425.00" fill="none" stroke="#3a3a3a" stroke-width="1.0" stroke-linejoin="miter"/>
<polygon points="374.20,307.00 373.00,310.60 375.40,310.60" fill="#111"/>
<polygon points="374.20,428.00 373.00,424.40 375.40,424.40" fill="#111"/>
<polyline points="426.20,309.40 426.20,425.00" fill="none" stroke="#3a3a3a" stroke-width="1.0" stroke-linejoin="miter"/>
<polygon points="426.20,307.00 425.00,310.60 427.40,310.60" fill="#111"/>
<polygon points="426.20,428.00 425.00,424.40 427.40,424.40" fill="#111"/>
<polyline points="478.00,309.40 478.00,425.00" fill="none" stroke="#3a3a3a" stroke-width="1.0" stroke-linejoin="miter"/>
<polygon points="478.00,307.00 476.80,310.60 479.20,310.60" fill="#111"/>
<polygon points="478.00,428.00 476.80,424.40 479.20,424.40" fill="#111"/>
<polygon points="190.00,370.00 188.80,374.50 191.20,374.50" fill="#111"/>
<polygon points="199.90,370.00 198.70,374.50 201.10,374.50" fill="#111"/>
<polygon points="209.90,370.00 208.70,374.50 211.10,374.50" fill="#111"/>
<polygon points="219.90,370.00 218.70,374.50 221.10,374.50" fill="#111"/>
<polygon points="229.70,370.00 228.50,374.50 230.90,374.50" fill="#111"/>
<rect x="266.60" y="427.60" width="8.90" height="7.90" fill="#fff" stroke="#383838" stroke-width="1.0"/>
<path d="M266.60,427.60L275.50,435.50M275.50,427.60L266.60,435.50" stroke="#222" stroke-width="0.85"/>
<circle cx="266.60" cy="427.60" r="0.75" fill="#111"/>
<circle cx="275.50" cy="427.60" r="0.75" fill="#111"/>
<circle cx="266.60" cy="435.50" r="0.75" fill="#111"/>
<circle cx="275.50" cy="435.50" r="0.75" fill="#111"/>
<rect x="321.30" y="428.50" width="8.10" height="7.80" fill="#fff" stroke="#383838" stroke-width="1.0"/>
<path d="M321.30,428.50L329.40,436.30M329.40,428.50L321.30,436.30" stroke="#222" stroke-width="0.85"/>
<circle cx="321.30" cy="428.50" r="0.75" fill="#111"/>
<circle cx="329.40" cy="428.50" r="0.75" fill="#111"/>
<circle cx="321.30" cy="436.30" r="0.75" fill="#111"/>
<circle cx="329.40" cy="436.30" r="0.75" fill="#111"/>
<rect x="372.50" y="428.50" width="8.90" height="7.80" fill="#fff" stroke="#383838" stroke-width="1.0"/>
<path d="M372.50,428.50L381.40,436.30M381.40,428.50L372.50,436.30" stroke="#222" stroke-width="0.85"/>
<circle cx="372.50" cy="428.50" r="0.75" fill="#111"/>
<circle cx="381.40" cy="428.50" r="0.75" fill="#111"/>
<circle cx="372.50" cy="436.30" r="0.75" fill="#111"/>
<circle cx="381.40" cy="436.30" r="0.75" fill="#111"/>
<rect x="419.20" y="428.50" width="8.80" height="7.80" fill="#fff" stroke="#383838" stroke-width="1.0"/>
<path d="M419.20,428.50L428.00,436.30M428.00,428.50L419.20,436.30" stroke="#222" stroke-width="0.85"/>
<circle cx="419.20" cy="428.50" r="0.75" fill="#111"/>
<circle cx="428.00" cy="428.50" r="0.75" fill="#111"/>
<circle cx="419.20" cy="436.30" r="0.75" fill="#111"/>
<circle cx="428.00" cy="436.30" r="0.75" fill="#111"/>
<rect x="476.50" y="428.50" width="8.90" height="7.80" fill="#fff" stroke="#383838" stroke-width="1.0"/>
<path d="M476.50,428.50L485.40,436.30M485.40,428.50L476.50,436.30" stroke="#222" stroke-width="0.85"/>
<circle cx="476.50" cy="428.50" r="0.75" fill="#111"/>
<circle cx="485.40" cy="428.50" r="0.75" fill="#111"/>
<circle cx="476.50" cy="436.30" r="0.75" fill="#111"/>
<circle cx="485.40" cy="436.30" r="0.75" fill="#111"/>
<text x="242.20" y="435.00" font-size="6.45" text-anchor="start" fill="#0a0a16" stroke="#0a0a16" stroke-width="0.04" >I/O</text>
<circle cx="286.50" cy="431.90" r="0.85" fill="#000"/>
<circle cx="292.20" cy="431.90" r="0.85" fill="#000"/>
<circle cx="298.00" cy="431.90" r="0.85" fill="#000"/>
<circle cx="345.00" cy="432.50" r="0.85" fill="#000"/>
<circle cx="350.60" cy="432.50" r="0.85" fill="#000"/>
<circle cx="356.20" cy="432.50" r="0.85" fill="#000"/>
<circle cx="394.60" cy="432.20" r="0.85" fill="#000"/>
<circle cx="400.20" cy="432.20" r="0.85" fill="#000"/>
<circle cx="405.60" cy="432.20" r="0.85" fill="#000"/>
<circle cx="446.50" cy="431.90" r="0.85" fill="#000"/>
<circle cx="452.20" cy="431.90" r="0.85" fill="#000"/>
<circle cx="457.80" cy="431.90" r="0.85" fill="#000"/>
</svg></body></html>
